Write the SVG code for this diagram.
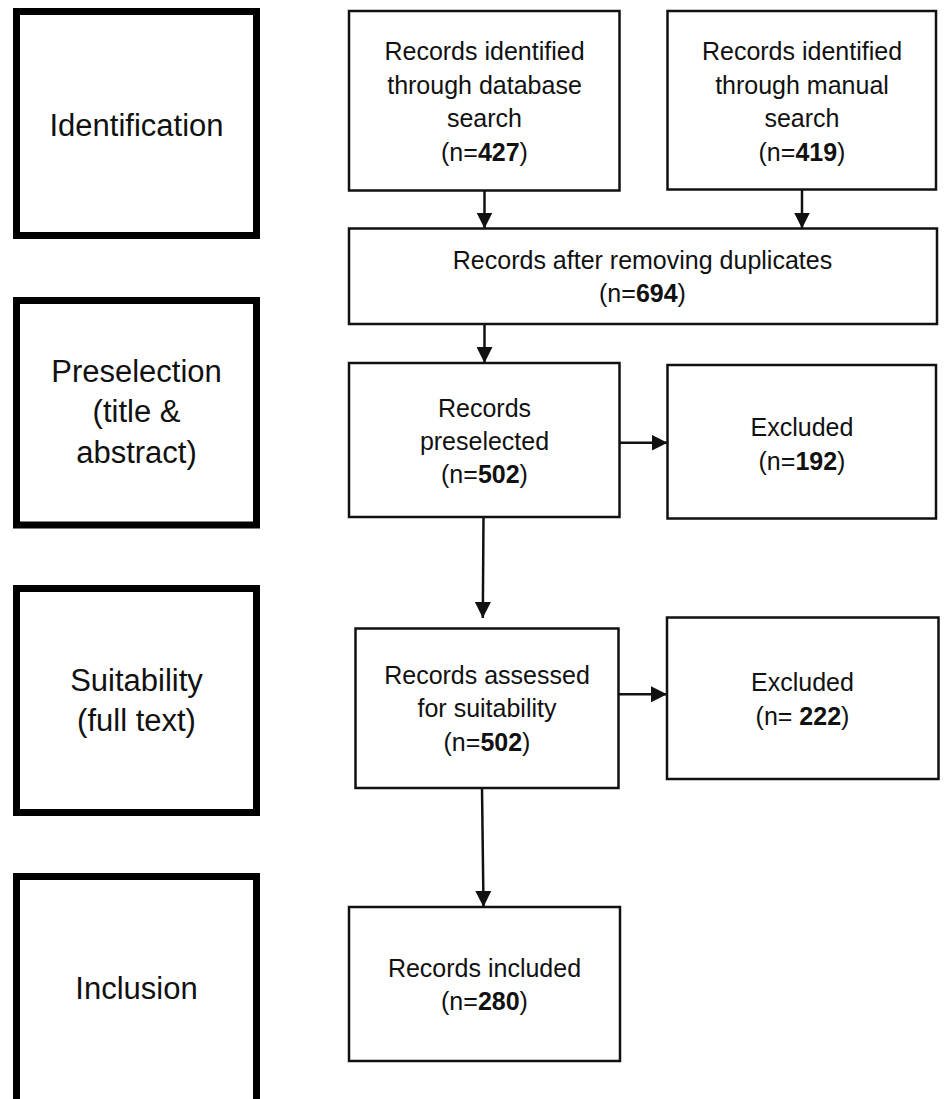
<svg xmlns="http://www.w3.org/2000/svg" width="944" height="1099" viewBox="0 0 944 1099">
<style>
.stage{fill:#fff;stroke:#000;stroke-width:7}
.box{fill:#fff;stroke:#111;stroke-width:2.5}
.lbl{font-family:"Liberation Sans",Arial,sans-serif;font-size:31px;fill:#111;text-anchor:middle}
.t{font-family:"Liberation Sans",Arial,sans-serif;font-size:25px;fill:#111;text-anchor:middle}
.b{font-weight:bold}
.conn{fill:none;stroke:#111;stroke-width:2.5}
</style>
<defs>
<marker id="ah" markerUnits="userSpaceOnUse" viewBox="0 0 16 16" refX="16" refY="8" markerWidth="16" markerHeight="16" orient="auto">
<path d="M0,0 L16,8 L0,16 z" fill="#111"/>
</marker>
</defs>
<rect width="944" height="1099" fill="#fff"/>
<g id="stage-identification">
<rect class="stage" x="16.5" y="11.5" width="240" height="224"/>
<text class="lbl" x="136.5" y="136">Identification</text>
</g>
<g id="stage-preselection">
<rect class="stage" x="16.5" y="300.5" width="240" height="224.5"/>
<text class="lbl" x="136.5" y="382">Preselection</text>
<text class="lbl" x="136.5" y="422">(title &amp;</text>
<text class="lbl" x="136.5" y="463">abstract)</text>
</g>
<g id="stage-suitability">
<rect class="stage" x="16.5" y="588.5" width="240" height="224"/>
<text class="lbl" x="136.5" y="691">Suitability</text>
<text class="lbl" x="136.5" y="731">(full text)</text>
</g>
<g id="stage-inclusion">
<rect class="stage" x="16.5" y="876.5" width="240" height="230"/>
<text class="lbl" x="136.5" y="999">Inclusion</text>
</g>
<g id="connectors">
<path class="conn" d="M484.5,190.7 V228.5" marker-end="url(#ah)"/>
<path class="conn" d="M802,189.3 V228.5" marker-end="url(#ah)"/>
<path class="conn" d="M484.5,324 V363" marker-end="url(#ah)"/>
<path class="conn" d="M619.5,442.7 H667.5" marker-end="url(#ah)"/>
<path class="conn" d="M483.5,517 L482.8,618" marker-end="url(#ah)"/>
<path class="conn" d="M618.5,694.3 H667" marker-end="url(#ah)"/>
<path class="conn" d="M482,788 L483.5,907" marker-end="url(#ah)"/>
</g>
<g id="db-search">
<rect class="box" x="349" y="11" width="270.5" height="179.5"/>
<text class="t" x="484.5" y="60">Records identified</text>
<text class="t" x="484.5" y="93.5">through database</text>
<text class="t" x="484.5" y="127">search</text>
<text class="t" x="484.5" y="161">(n=<tspan class="b">427</tspan>)</text>
</g>
<g id="manual-search">
<rect class="box" x="667.5" y="11" width="268.5" height="178.5"/>
<text class="t" x="802" y="60">Records identified</text>
<text class="t" x="802" y="93.5">through manual</text>
<text class="t" x="802" y="127">search</text>
<text class="t" x="802" y="161">(n=<tspan class="b">419</tspan>)</text>
</g>
<g id="deduplicated">
<rect class="box" x="349" y="228.5" width="588" height="95.5"/>
<text class="t" x="642.5" y="269">Records after removing duplicates</text>
<text class="t" x="642.5" y="302">(n=<tspan class="b">694</tspan>)</text>
</g>
<g id="preselected">
<rect class="box" x="349" y="363" width="270.5" height="154"/>
<text class="t" x="484.5" y="417">Records</text>
<text class="t" x="484.5" y="450">preselected</text>
<text class="t" x="484.5" y="483">(n=<tspan class="b">502</tspan>)</text>
</g>
<g id="excluded-1">
<rect class="box" x="667.5" y="365" width="268.5" height="153.5"/>
<text class="t" x="802" y="436">Excluded</text>
<text class="t" x="802" y="470">(n=<tspan class="b">192</tspan>)</text>
</g>
<g id="assessed">
<rect class="box" x="355.5" y="628.5" width="263" height="159.5"/>
<text class="t" x="487" y="684">Records assessed</text>
<text class="t" x="487" y="717">for suitability</text>
<text class="t" x="487" y="750.5">(n=<tspan class="b">502</tspan>)</text>
</g>
<g id="excluded-2">
<rect class="box" x="667" y="617.5" width="271.5" height="161.5"/>
<text class="t" x="802.5" y="690.5">Excluded</text>
<text class="t" x="802.5" y="725">(n= <tspan class="b">222</tspan>)</text>
</g>
<g id="included">
<rect class="box" x="349" y="907" width="271" height="154"/>
<text class="t" x="484.5" y="977">Records included</text>
<text class="t" x="484.5" y="1010">(n=<tspan class="b">280</tspan>)</text>
</g>
</svg>
